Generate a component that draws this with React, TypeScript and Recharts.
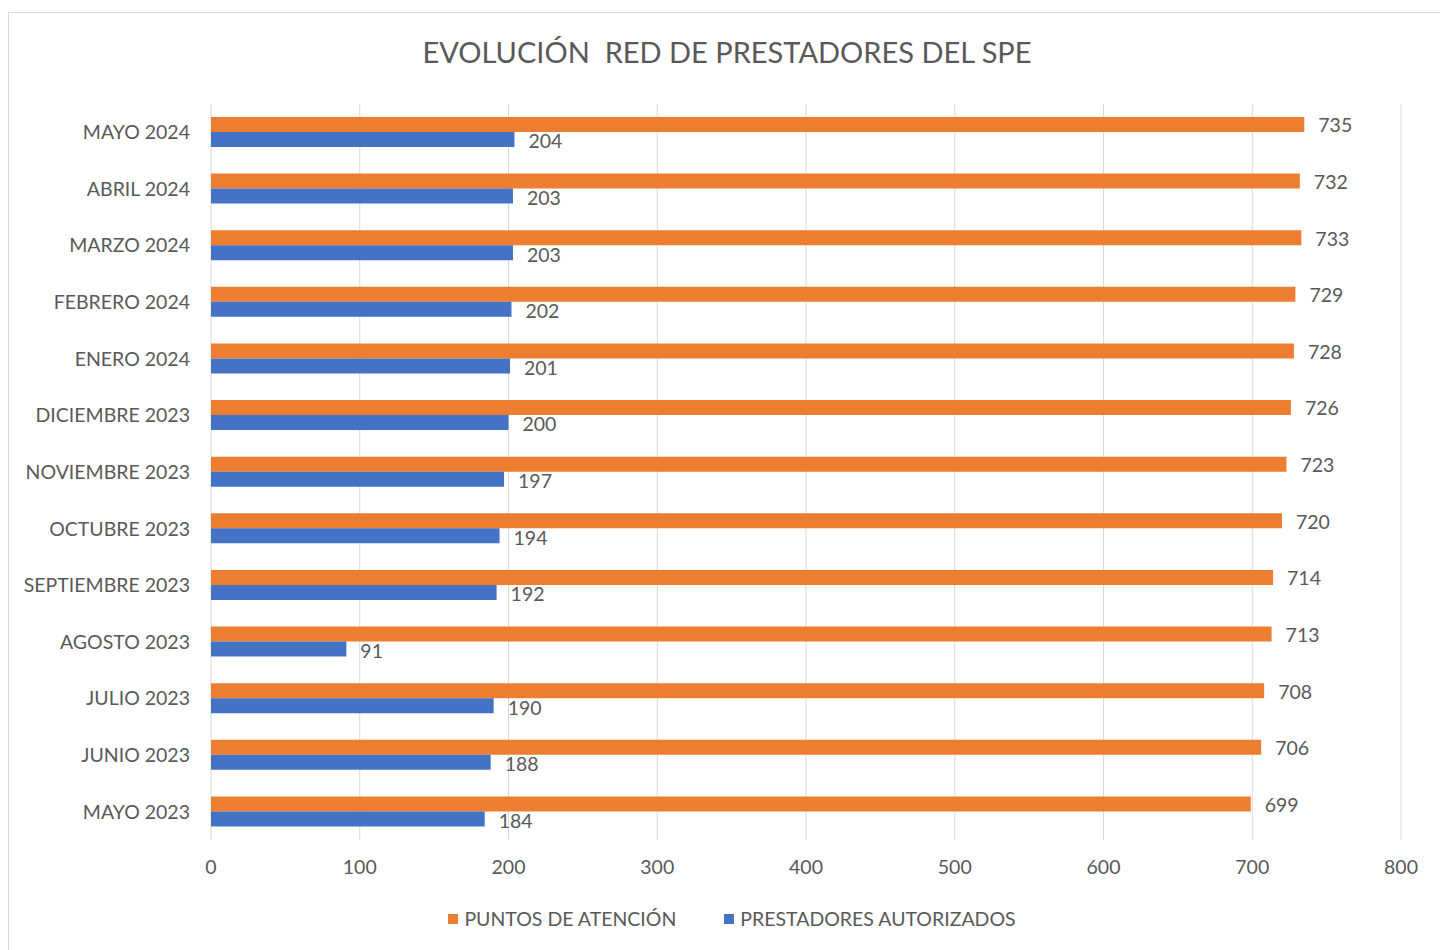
import { BarChart, Bar, XAxis, YAxis, CartesianGrid, Legend, LabelList } from "recharts";

const months = [
  "MAYO 2023",
  "JUNIO 2023",
  "JULIO 2023",
  "AGOSTO 2023",
  "SEPTIEMBRE 2023",
  "OCTUBRE 2023",
  "NOVIEMBRE 2023",
  "DICIEMBRE 2023",
  "ENERO 2024",
  "FEBRERO 2024",
  "MARZO 2024",
  "ABRIL 2024",
  "MAYO 2024",
];
const puntosAtencion = [699, 706, 708, 713, 714, 720, 723, 726, 728, 729, 733, 732, 735];
const prestadoresAutorizados = [184, 188, 190, 91, 192, 194, 197, 200, 201, 202, 203, 203, 204];
const xTicks = [0, 100, 200, 300, 400, 500, 600, 700, 800];
const legendOrder = ["PUNTOS DE ATENCIÓN", "PRESTADORES AUTORIZADOS"];

const data = months.map((m, i) => ({
  month: m,
  puntos: puntosAtencion[i],
  prestadores: prestadoresAutorizados[i],
}));

const FONT = "Lato, 'Open Sans', sans-serif";
const GRAY = "#595959";
const FS = 19.5;

function LegendContent(props: any) {
  const items = [...(props.payload || [])].sort(
    (a: any, b: any) => legendOrder.indexOf(a.value) - legendOrder.indexOf(b.value)
  );
  return (
    <div
      style={{
        display: "flex",
        justifyContent: "center",
        gap: 48,
        marginLeft: 54,
        fontFamily: FONT,
        fontSize: FS,
        color: GRAY,
      }}
    >
      {items.map((p: any) => (
        <div key={p.value} style={{ display: "flex", alignItems: "center" }}>
          <span style={{ width: 10, height: 10, background: p.color, display: "inline-block", marginRight: 6 }} />
          <span>{p.value}</span>
        </div>
      ))}
    </div>
  );
}

export default function App() {
  return (
    <div
      style={{
        position: "absolute",
        left: 8,
        top: 12,
        width: 1432,
        height: 938,
        boxSizing: "border-box",
        borderLeft: "1px solid #d9d9d9",
        borderTop: "1px solid #d9d9d9",
        background: "#fff",
      }}
    >
      <div
        style={{
          position: "absolute",
          top: 21,
          left: 0,
          width: 1436,
          textAlign: "center",
          fontFamily: FONT,
          fontSize: 29,
          color: GRAY,
        }}
      >
        EVOLUCIÓN&nbsp; RED DE PRESTADORES DEL SPE
      </div>
      <div style={{ position: "absolute", top: 0, left: 0 }}>
        <BarChart
          width={1431}
          height={937}
          data={data}
          layout="vertical"
          margin={{ top: 91, right: 39, left: 0, bottom: 47 }}
          barGap={0}
          barSize={15}
        >
          <CartesianGrid horizontal={false} stroke="#d9d9d9" />
          <XAxis
            type="number"
            domain={[0, 800]}
            ticks={xTicks}
            axisLine={false}
            tickLine={false}
            tickSize={0}
            tickMargin={20}
            height={40}
            tick={{ fill: GRAY, fontSize: FS, fontFamily: FONT }}
          />
          <YAxis
            type="category"
            dataKey="month"
            reversed
            width={202}
            axisLine={false}
            tickLine={false}
            tickSize={0}
            tickMargin={21}
            interval={0}
            tick={{ fill: GRAY, fontSize: FS, fontFamily: FONT }}
          />
          <Legend verticalAlign="bottom" content={LegendContent} wrapperStyle={{ bottom: 20 }} />
          <Bar dataKey="puntos" name="PUNTOS DE ATENCIÓN" fill="#ED7D31" isAnimationActive={false}>
            <LabelList dataKey="puntos" position="right" offset={14} dy={1} fill={GRAY} fontSize={FS} fontFamily={FONT} />
          </Bar>
          <Bar dataKey="prestadores" name="PRESTADORES AUTORIZADOS" fill="#4472C4" isAnimationActive={false}>
            <LabelList dataKey="prestadores" position="right" offset={14} dy={2} fill={GRAY} fontSize={FS} fontFamily={FONT} />
          </Bar>
        </BarChart>
      </div>
    </div>
  );
}
